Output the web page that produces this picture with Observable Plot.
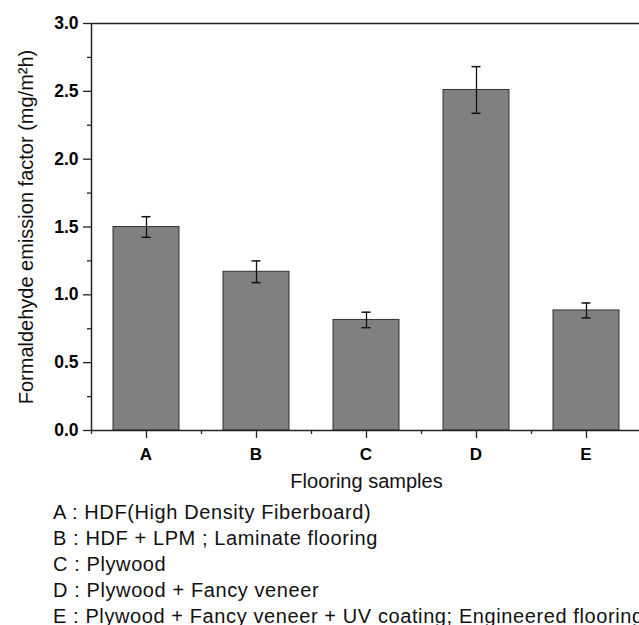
<!DOCTYPE html>
<html>
<head>
<meta charset="utf-8">
<script src="https://cdn.jsdelivr.net/npm/d3@7"></script>
<script src="https://cdn.jsdelivr.net/npm/@observablehq/plot@0.6"></script>
<style>
  html, body { margin: 0; padding: 0; background: #fff; overflow: hidden; }
  #legend { font-family: "Liberation Sans", Arial, sans-serif; font-size: 20px; letter-spacing: 0.6px; line-height: 26px; color: #111; padding-left: 53px; white-space: nowrap; margin-top: -1.5px; }
  #chart g[aria-label="x-axis tick label"] text { letter-spacing: 1px; }
</style>
</head>
<body>
<div id="chart"></div>
<div id="legend"></div>
<script>
const categories = ["A", "B", "C", "D", "E"];
const values = [1.50, 1.17, 0.815, 2.51, 0.885];
const errors = [0.076, 0.08, 0.057, 0.172, 0.055];
const descriptions = [
  "A : HDF(High Density Fiberboard)",
  "B : HDF + LPM ; Laminate flooring",
  "C : Plywood",
  "D : Plywood + Fancy veneer",
  "E : Plywood + Fancy veneer + UV coating; Engineered flooring"
];
const yMajorTicks = [0, 0.5, 1.0, 1.5, 2.0, 2.5, 3.0];
const yMinorTicks = [0.25, 0.75, 1.25, 1.75, 2.25, 2.75];
const yLabel = "Formaldehyde emission factor (mg/m²h)";
const xLabel = "Flooring samples";

const data = categories.map((c, i) => ({cat: c, v: values[i], lo: values[i] - errors[i], hi: values[i] + errors[i]}));

const font = "'Liberation Sans', Arial, sans-serif";

const chart = Plot.plot({
  width: 639,
  height: 500,
  marginLeft: 91,
  marginRight: -2,
  marginTop: 23,
  marginBottom: 70,
  style: {fontFamily: font, fontSize: "17px", color: "#000", background: "#fff"},
  x: {type: "band", domain: categories, paddingInner: 0.4, paddingOuter: 0.2},
  y: {domain: [0, 3]},
  marks: [
    Plot.barY(data, {x: "cat", y: "v", fill: "#808080", stroke: "#333", strokeWidth: 1}),
    Plot.ruleX(data, {x: "cat", y1: "lo", y2: "hi", stroke: "#111", strokeWidth: 1.3}),
    Plot.tickY(data, {x: "cat", y: "lo", insetLeft: 28.5, insetRight: 28.5, stroke: "#111", strokeWidth: 1.5}),
    Plot.tickY(data, {x: "cat", y: "hi", insetLeft: 28.5, insetRight: 28.5, stroke: "#111", strokeWidth: 1.5}),
    Plot.frame({stroke: "#222", strokeWidth: 1.5}),
    Plot.axisY({ticks: yMajorTicks, tickFormat: () => "", tickSize: 8, label: null, stroke: "#222", strokeWidth: 1.3}),
    Plot.axisY({ticks: yMinorTicks, tickFormat: () => "", tickSize: 4, label: null, stroke: "#222", strokeWidth: 1.3}),
    Plot.text(yMajorTicks, {y: d => d, text: d => d3.format(".1f")(d), frameAnchor: "left", dx: -13, textAnchor: "end", lineAnchor: "middle", fontSize: 17.5, fontWeight: "bold", fill: "#000", style: "letter-spacing:1px"}),
    Plot.axisX({tickSize: 8, tickPadding: 9, fontWeight: "bold", label: null, stroke: "#222", strokeWidth: 1.3}),
    Plot.ruleX(categories, {x: d => d, dx: -55, y1: 0, y2: 0, insetBottom: -4, stroke: "#222", strokeWidth: 1.3}),
    Plot.text([yLabel], {frameAnchor: "left", rotate: -90, dx: -65, fontSize: 20, textAnchor: "middle", lineAnchor: "middle", fill: "#111", style: "letter-spacing:0.25px"}),
    Plot.text([xLabel], {frameAnchor: "bottom", dy: 51, fontSize: 20, textAnchor: "middle", lineAnchor: "middle", fill: "#111", style: "letter-spacing:0.5px"})
  ]
});
document.getElementById("chart").appendChild(chart);

const legend = document.getElementById("legend");
descriptions.forEach(t => {
  const d = document.createElement("div");
  d.textContent = t;
  legend.appendChild(d);
});
</script>
</body>
</html>
